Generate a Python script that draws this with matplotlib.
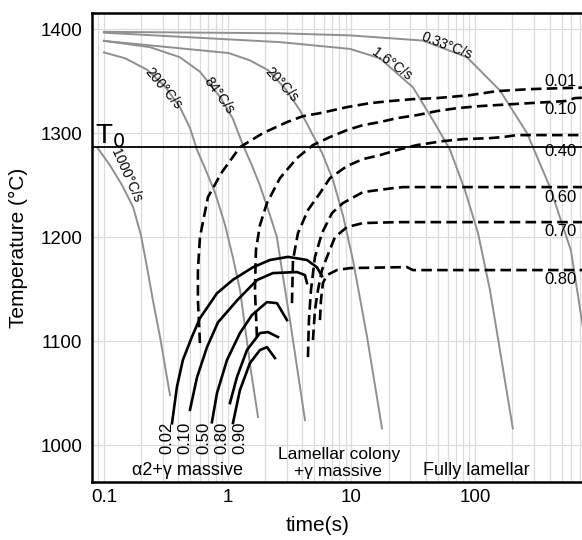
import matplotlib
matplotlib.use('Agg')
import matplotlib.pyplot as plt
from matplotlib.ticker import FixedLocator, LogLocator, NullFormatter

plt.rcParams['font.family'] = ['Liberation Sans', 'DejaVu Sans']

# cooling curves (time s, temperature C)
rate_names = ['1000°C/s', '200°C/s', '84°C/s', '20°C/s', '1.6°C/s', '0.33°C/s']

c1000_t = [0.0878, 0.112, 0.140, 0.172, 0.199, 0.223, 0.249, 0.284, 0.342]
c1000_T = [1286.5, 1269, 1250, 1229, 1202, 1171, 1139, 1104, 1048]

c200_t = [0.100, 0.148, 0.223, 0.311, 0.411, 0.496, 0.565, 0.668, 0.790, 0.951, 1.10, 1.26, 1.38, 1.54, 1.76]
c200_T = [1377.6, 1372, 1361, 1345, 1325, 1305, 1284, 1264, 1243, 1212, 1181, 1149, 1114, 1072, 1027]

c84_t = [0.100, 0.235, 0.411, 0.597, 0.867, 1.10, 1.33, 1.57, 1.82, 2.20, 2.50, 2.75, 3.19, 4.22]
c84_T = [1388.7, 1382.7, 1373, 1359, 1335, 1314, 1288.5, 1269, 1250, 1221, 1200, 1168, 1120, 1024]

c20_t = [0.100, 1.02, 1.51, 2.12, 2.91, 3.84, 4.89, 5.79, 7.10, 8.55, 10.3, 13.4, 17.7]
c20_T = [1388.7, 1377, 1370, 1360.6, 1343, 1322, 1298, 1281, 1255, 1221, 1178, 1104, 1016]

c1_6_t = [0.100, 2.65, 9.74, 17.0, 31.5, 49.2, 62.7, 82.9, 105.6, 132, 159, 202]
c1_6_T = [1396.6, 1387.5, 1381, 1372, 1344, 1306, 1284, 1245, 1204, 1149, 1091, 1016]

c033_t = [0.100, 2.65, 9.74, 37.9, 86.0, 159, 263, 403, 596, 773]
c033_T = [1397.4, 1396, 1394, 1389, 1373, 1341, 1300, 1248, 1187, 1101]

# transformation start curves (solid)
start_names = ['0.02', '0.10', '0.50', '0.80', '0.90']

f002_t = [0.355, 0.389, 0.435, 0.514, 0.597, 0.820, 1.104, 1.602, 2.198, 3.073, 4.377, 5.272, 5.785]
f002_T = [1021, 1056, 1082, 1104, 1122, 1146, 1159, 1171, 1178, 1181, 1178, 1171, 1162.5]

f010_t = [0.496, 0.565, 0.680, 0.835, 1.189, 1.725, 2.324, 3.633, 4.216, 4.377]
f010_T = [1034, 1065, 1094, 1118, 1139, 1158.7, 1165.4, 1166.4, 1163.5, 1155.8]

f050_t = [0.746, 0.820, 0.987, 1.257, 1.572, 2.078, 2.504, 3.016]
f050_T = [1022, 1050, 1081.7, 1107.7, 1125, 1137.5, 1136.5, 1120.2]

f080_t = [1.044, 1.189, 1.432, 1.824, 2.118, 2.551]
f080_T = [1040.4, 1065.4, 1091.4, 1107.7, 1108.7, 1103.9]

f090_t = [1.104, 1.257, 1.515, 1.824, 2.078, 2.413]
f090_T = [1021.2, 1052.9, 1078.9, 1091.4, 1094.2, 1083.7]

# fraction curves (dashed)
frac_names = ['0.01', '0.10', '0.40', '0.60', '0.70', '0.80']
frac_label_T = [1350, 1323, 1282, 1238.5, 1205, 1159]

d001_t = [0.597, 0.575, 0.575, 0.597, 0.693, 0.899, 1.257, 1.930, 3.016, 4.062, 5.574, 9.21, 14.1, 20.5, 31.5, 49.2, 90.9, 150.3, 277.8, 513.5, 1000]
d001_T = [1098.1, 1139.4, 1168.3, 1200.0, 1238.5, 1262.5, 1286.5, 1300, 1310.6, 1316.3, 1319.2, 1325.0, 1328.8, 1330.8, 1332.7, 1333.7, 1336.5, 1340.4, 1342.3, 1343.3, 1344.2]

d010_t = [1.725, 1.662, 1.693, 1.824, 2.078, 2.647, 3.633, 4.893, 6.714, 9.21, 12.4, 17.0, 23.4, 33.9, 49.2, 71.4, 109.6, 202.5, 381.3, 533, 642, 1000]
d010_T = [1103.9, 1149.0, 1187.5, 1211.5, 1232.7, 1256.7, 1276.0, 1288.5, 1296.2, 1302.9, 1307.7, 1310.6, 1314.4, 1317.3, 1321.2, 1324.0, 1326.0, 1327.9, 1329.8, 1330.8, 1333.7, 1334.6]

d040_t = [3.311, 3.373, 3.701, 4.459, 5.574, 6.714, 9.21, 12.4, 17.0, 23.4, 33.9, 55.0, 79.9, 132, 168, 218, 1000]
d040_T = [1136.5, 1177.9, 1203.8, 1226.0, 1242.3, 1256.7, 1268.3, 1275.0, 1278.8, 1283.7, 1288.5, 1292.3, 1294.2, 1295.2, 1296.2, 1298.1, 1298.1]

d060_t = [4.459, 4.54, 4.715, 5.078, 5.785, 6.97, 8.55, 12.4, 21.7, 26.1, 1000]
d060_T = [1084.6, 1120.2, 1149.0, 1180.8, 1203.8, 1223.1, 1232.7, 1243.3, 1247.1, 1248.1, 1248.1]

d070_t = [4.893, 5.078, 5.37, 5.785, 6.35, 7.37, 9.21, 12.4, 23.4, 1000]
d070_T = [1101.0, 1129.8, 1149.0, 1168.3, 1180.8, 1200.0, 1209.6, 1213.5, 1214.4, 1214.4]

d080_t = [5.574, 5.68, 5.89, 6.35, 7.65, 9.74, 28.1, 31.5, 1000]
d080_T = [1120.2, 1139.4, 1155.8, 1163.5, 1168.3, 1170.2, 1171.2, 1168.3, 1168.3]

T0 = 1287

fig = plt.figure(figsize=(5.82, 5.4), dpi=100)
ax = fig.add_axes([0.158, 0.1074, 0.8708, 0.8685])

gray = '#909090'
cooling = [(c1000_t, c1000_T), (c200_t, c200_T), (c84_t, c84_T),
           (c20_t, c20_T), (c1_6_t, c1_6_T), (c033_t, c033_T)]
for t, T in cooling:
    ax.plot(t, T, color=gray, lw=1.4, zorder=2)

for t, T in [(f002_t, f002_T), (f010_t, f010_T), (f050_t, f050_T),
             (f080_t, f080_T), (f090_t, f090_T)]:
    ax.plot(t, T, color='black', lw=1.9, zorder=3)

for t, T in [(d001_t, d001_T), (d010_t, d010_T), (d040_t, d040_T),
             (d060_t, d060_T), (d070_t, d070_T), (d080_t, d080_T)]:
    ax.plot(t, T, color='black', lw=1.9, ls=(0, (4, 2)), zorder=3)

ax.axhline(T0, color='black', lw=1.3, zorder=3)
ax.text(0.0846, 1290, r'T$_0$', fontsize=20, va='baseline', ha='left')

# rate labels along the cooling curves
rate_pos = [(0.1506, 1259.6, -66), (0.300, 1343, -50), (0.851, 1336, -54),
            (2.75, 1347, -47), (21.3, 1366, -36), (59.3, 1384, -21)]
for name, (t, T, rot) in zip(rate_names, rate_pos):
    ax.text(t, T, name, fontsize=10, rotation=rot, rotation_mode='anchor',
            ha='center', va='center')

start_label_t = [0.323, 0.452, 0.643, 0.899, 1.257]
for name, t in zip(start_names, start_label_t):
    ax.text(t, 1007, name, fontsize=12, rotation=90, ha='center', va='center')

for name, T in zip(frac_names, frac_label_T):
    ax.text(495, T, name, fontsize=12, ha='center', va='center')

ax.text(0.478, 976, 'α2+γ massive', fontsize=13, ha='center', va='center')
ax.text(7.9, 990.5, 'Lamellar colony', fontsize=12.5, ha='center', va='center')
ax.text(7.79, 974.5, '+γ massive', fontsize=12.5, ha='center', va='center')
ax.text(101.7, 976, 'Fully lamellar', fontsize=13, ha='center', va='center')

ax.set_xscale('log')
ax.set_xlim(0.08, 1000)
ax.set_ylim(964.5, 1415.5)
ax.xaxis.set_major_locator(FixedLocator([0.1, 1, 10, 100]))
ax.set_xticklabels(['0.1', '1', '10', '100'])
ax.xaxis.set_minor_locator(LogLocator(base=10, subs=range(2, 10), numticks=20))
ax.xaxis.set_minor_formatter(NullFormatter())
ax.set_yticks([1000, 1100, 1200, 1300, 1400])

ax.grid(True, which='both', axis='x', color='#dcdcdc', lw=0.9, zorder=0)
ax.grid(True, which='major', axis='y', color='#dcdcdc', lw=0.9, zorder=0)
ax.set_axisbelow(True)

ax.tick_params(axis='both', which='both', length=0, labelsize=13.5)
ax.tick_params(axis='y', pad=7)
ax.tick_params(axis='x', pad=5)
for s in ax.spines.values():
    s.set_linewidth(1.8)

ax.set_xlabel('time(s)', fontsize=15)
ax.xaxis.set_label_coords(0.446, -0.072)
ax.set_ylabel('Temperature (°C)', fontsize=15, labelpad=9)

fig.savefig('out.png', dpi=100)
